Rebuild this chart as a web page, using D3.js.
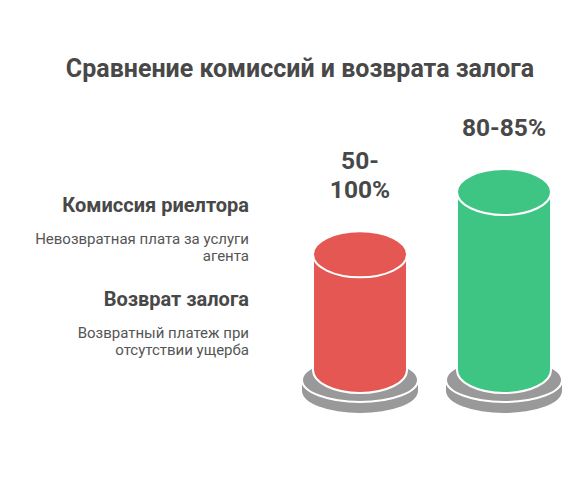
<!DOCTYPE html>
<html lang="ru">
<head>
<meta charset="utf-8">
<title>Сравнение комиссий и возврата залога</title>
<script src="https://cdn.jsdelivr.net/npm/d3@7"></script>
<style>
  body { margin: 0; background: #fff; font-family: Roboto, "Noto Sans", sans-serif; }
  .title { font-size: 25px; font-weight: 700; fill: #484848; }
  .cat { font-size: 20px; font-weight: 700; fill: #484848; }
  .desc { font-size: 15px; fill: #555; }
  .val { font-size: 24.5px; font-weight: 700; fill: #484848; }
</style>
</head>
<body>
<script>
var W = 588, H = 492;

// data
var categories = ["Комиссия риелтора", "Возврат залога"];
var heights = [65, 100];               // relative cylinder heights
var valueLabels = [["50-", "100%"], ["80-85%"]];
var descriptions = [["Невозвратная плата за услуги", "агента"], ["Возвратный платеж при", "отсутствии ущерба"]];
var colors = ["#e55753", "#3ec583"];

var rx = 47, ry = 23,        // cylinder ellipse
    prx = 58, pry = 22, pth = 11,  // base plate
    baseY = 370;

var svg = d3.select("body").append("svg")
  .attr("width", W).attr("height", H);

svg.append("text").attr("class", "title")
  .attr("x", 300).attr("y", 77)
  .attr("text-anchor", "middle")
  .text("Сравнение комиссий и возврата залога");

var x = d3.scalePoint().domain(categories).range([360, 504]);
var y = d3.scaleLinear().domain([0, 100]).range([baseY, 192]);

// left legend texts
var legendTop = [212, 306];
var leg = svg.selectAll("g.leg").data(categories).enter().append("g").attr("class", "leg");
leg.append("text").attr("class", "cat")
  .attr("x", 249).attr("y", function(d, i) { return legendTop[i]; })
  .attr("text-anchor", "end").text(function(d) { return d; });
leg.each(function(d, i) {
  d3.select(this).selectAll("text.desc").data(descriptions[i]).enter().append("text")
    .attr("class", "desc").attr("text-anchor", "end")
    .attr("x", 249)
    .attr("y", function(t, j) { return legendTop[i] + 32 + j * 17; })
    .text(function(t) { return t; });
});

// cylinders
var cyl = svg.selectAll("g.cyl").data(categories).enter().append("g").attr("class", "cyl");

cyl.each(function(d, i) {
  var g = d3.select(this), cx = x(d), top = y(heights[i]);
  var py = baseY + 10;

  // plate side
  g.append("path")
    .attr("d", "M" + (cx - prx) + "," + py + " L" + (cx - prx) + "," + (py + pth) +
      " A" + prx + "," + pry + " 0 0 0 " + (cx + prx) + "," + (py + pth) +
      " L" + (cx + prx) + "," + py + " Z")
    .attr("fill", "#999");
  // plate top
  g.append("ellipse")
    .attr("cx", cx).attr("cy", py).attr("rx", prx).attr("ry", pry)
    .attr("fill", "#999").attr("stroke", "#fff").attr("stroke-width", 2);

  // body
  g.append("path")
    .attr("d", "M" + (cx - rx) + "," + top + " L" + (cx - rx) + "," + baseY +
      " A" + rx + "," + ry + " 0 0 0 " + (cx + rx) + "," + baseY +
      " L" + (cx + rx) + "," + top + " Z")
    .attr("fill", colors[i]).attr("stroke", "#fff").attr("stroke-width", 2);
  // top face
  g.append("ellipse")
    .attr("cx", cx).attr("cy", top).attr("rx", rx).attr("ry", ry)
    .attr("fill", colors[i]).attr("stroke", "#fff").attr("stroke-width", 2);

  // value label
  var lines = valueLabels[i];
  var lastBase = top - ry - 33;
  g.selectAll("text.val").data(lines).enter().append("text")
    .attr("class", "val").attr("text-anchor", "middle")
    .attr("x", cx)
    .attr("y", function(t, j) { return lastBase - (lines.length - 1 - j) * 29; })
    .text(function(t) { return t; });
});
</script>
</body>
</html>
